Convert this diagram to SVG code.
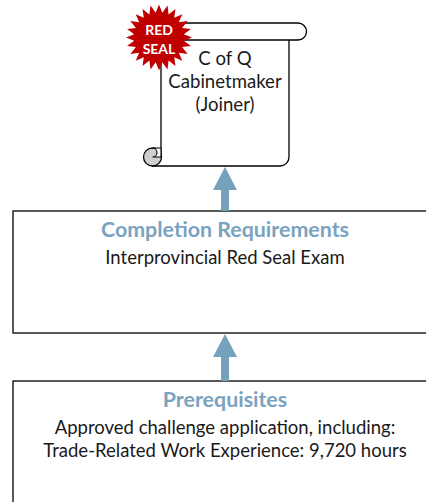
<svg xmlns="http://www.w3.org/2000/svg" width="426" height="502" viewBox="0 0 426 502">
<defs>
<style>
text{font-family:"Lato","Carlito","Open Sans",sans-serif;text-anchor:middle;fill:#1a1a1a}
.box{fill:#fff;stroke:#000;stroke-width:1.3}
.head{font-size:21.400px;font-weight:700;fill:#7aa3c0}
.body{font-size:18.500px}
.arrow{fill:#76a1bd}
.seal{font-size:14px;font-weight:700;fill:#fff}
.line{fill:#fff;stroke:#000;stroke-width:1.1}
</style>
</defs>
<rect width="426" height="502" fill="#fff"/>
<g id="scroll">
<path d="M161 157V40H298A8.500 8.500 0 0 0 298 23H179M289 40V157A9 9 0 0 1 280 166H152" fill="#fff" stroke="#000" stroke-width="1.3"/>
<circle cx="152.500" cy="157" r="9" fill="#cfcfcf" stroke="#000" stroke-width="1.300"/>
<path class="line" d="M152.500 148H161V157H152.500A4.500 4.500 0 0 0 152.500 148Z"/>
<text x="225" y="65" font-size="18.600">C of Q</text>
<text x="225" y="88" font-size="18.600">Cabinetmaker</text>
<text x="225" y="111" font-size="18.600">(Joiner)</text>
</g>
<g id="seal">
<polygon fill="#c00000" transform="translate(159 37.500)" points="33,0 24.800,3.300 31.900,8.500 23.100,9.600 28.600,16.500 19.800,15.200 23.300,23.300 15.200,19.800 16.500,28.600 9.600,23.100 8.500,31.900 3.300,24.800 0,33 -3.300,24.800 -8.500,31.900 -9.600,23.100 -16.500,28.600 -15.200,19.800 -23.300,23.300 -19.800,15.200 -28.600,16.500 -23.100,9.600 -31.900,8.500 -24.800,3.300 -33,0 -24.800,-3.300 -31.900,-8.500 -23.100,-9.600 -28.600,-16.500 -19.800,-15.200 -23.300,-23.300 -15.200,-19.800 -16.500,-28.600 -9.600,-23.100 -8.500,-31.900 -3.300,-24.800 0,-33 3.300,-24.800 8.500,-31.900 9.600,-23.100 16.500,-28.600 15.200,-19.800 23.300,-23.300 19.800,-15.200 28.600,-16.500 23.100,-9.600 31.900,-8.500 24.800,-3.300"/>
<text class="seal" x="159" y="35">RED</text>
<text class="seal" x="159" y="54">SEAL</text>
</g>
<g id="completion">
<rect class="box" x="13" y="211" width="420" height="122"/>
<text class="head" x="225" y="237">Completion Requirements</text>
<text class="body" x="225" y="264">Interprovincial Red Seal Exam</text>
</g>
<g id="prerequisites">
<rect class="box" x="13" y="381" width="420" height="130"/>
<text class="head" x="225" y="407">Prerequisites</text>
<text class="body" x="225" y="434">Approved challenge application, including:</text>
<text class="body" x="225" y="457">Trade-Related Work Experience: 9,720 hours</text>
</g>
<g id="connectors">
<polygon class="arrow" points="225,167 237,190 229,190 229,211 221,211 221,190 213,190"/>
<polygon class="arrow" points="225,334 237,357 229,357 229,381 221,381 221,357 213,357"/>
</g>
</svg>
